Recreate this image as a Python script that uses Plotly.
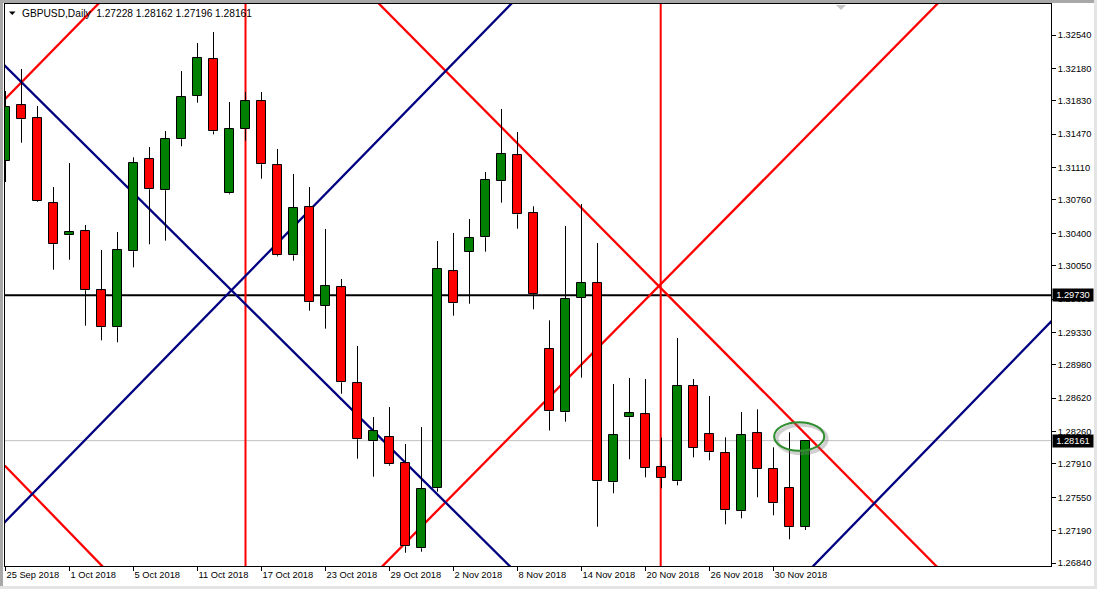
import plotly.graph_objects as go

# ---------------- data (GBPUSD, Daily) ----------------
dates = ["2018-09-25", "2018-09-26", "2018-09-27", "2018-09-28", "2018-10-01", "2018-10-02",
         "2018-10-03", "2018-10-04", "2018-10-05", "2018-10-08", "2018-10-09", "2018-10-10",
         "2018-10-11", "2018-10-12", "2018-10-15", "2018-10-16", "2018-10-17", "2018-10-18",
         "2018-10-19", "2018-10-22", "2018-10-23", "2018-10-24", "2018-10-25", "2018-10-26",
         "2018-10-29", "2018-10-30", "2018-10-31", "2018-11-01", "2018-11-02", "2018-11-05",
         "2018-11-06", "2018-11-07", "2018-11-08", "2018-11-09", "2018-11-12", "2018-11-13",
         "2018-11-14", "2018-11-15", "2018-11-16", "2018-11-19", "2018-11-20", "2018-11-21",
         "2018-11-22", "2018-11-23", "2018-11-26", "2018-11-27", "2018-11-28", "2018-11-29",
         "2018-11-30", "2018-12-03", "2018-12-04"]

opens = [1.31180, 1.31781, 1.31641, 1.30723, 1.30378, 1.30421, 1.29784, 1.29385, 1.30205, 1.31198,
         1.30864, 1.31414, 1.31885, 1.32278, 1.30831, 1.31522, 1.31824, 1.31133, 1.30162, 1.30680,
         1.29618, 1.29816, 1.28780, 1.28154, 1.28197, 1.27917, 1.26999, 1.27647, 1.29989, 1.30201,
         1.30356, 1.30961, 1.31241, 1.30615, 1.29147, 1.28467, 1.29701, 1.29860, 1.27711, 1.28413,
         1.28445, 1.27873, 1.27722, 1.28748, 1.28230, 1.28025, 1.27398, 1.28240, 1.27852, 1.27647,
         1.27228]
highs = [1.31935, 1.32173, 1.31774, 1.30899, 1.31158, 1.30489, 1.30219, 1.30413, 1.31220, 1.31331,
         1.31504, 1.32151, 1.32454, 1.32572, 1.31817, 1.31925, 1.31925, 1.31309, 1.31040, 1.30899,
         1.30446, 1.29906, 1.29183, 1.28416, 1.28524, 1.28125, 1.28308, 1.30316, 1.30403, 1.30554,
         1.31061, 1.31741, 1.31493, 1.30691, 1.29460, 1.30478, 1.30716, 1.30295, 1.28773, 1.28837,
         1.28827, 1.28193, 1.29269, 1.28827, 1.28643, 1.28197, 1.28470, 1.28499, 1.28089, 1.28251,
         1.28162]
lows = [1.30953, 1.31377, 1.30737, 1.30006, 1.30114, 1.29402, 1.29244, 1.29223, 1.30032, 1.30281,
        1.30320, 1.31339, 1.31809, 1.31468, 1.30820, 1.31399, 1.30989, 1.30150, 1.30104, 1.29564,
        1.29370, 1.28668, 1.27966, 1.27772, 1.27890, 1.26951, 1.26962, 1.27610, 1.29510, 1.29639,
        1.30201, 1.30730, 1.30449, 1.29579, 1.28271, 1.28366, 1.28841, 1.27232, 1.27593, 1.27960,
        1.27765, 1.27647, 1.27679, 1.27981, 1.27949, 1.27258, 1.27323, 1.27550, 1.27355, 1.27096,
        1.27196]
closes = [1.31766, 1.31630, 1.30745, 1.30281, 1.30410, 1.29784, 1.29385, 1.30216, 1.31155, 1.30874,
          1.31414, 1.31867, 1.32288, 1.31500, 1.31522, 1.31824, 1.31144, 1.30162, 1.30669, 1.29655,
          1.29827, 1.28791, 1.28176, 1.28262, 1.27906, 1.27021, 1.27636, 1.30011, 1.29644, 1.30345,
          1.30972, 1.31252, 1.30604, 1.29741, 1.28478, 1.29687, 1.29860, 1.27722, 1.28219, 1.28456,
          1.27866, 1.27755, 1.28748, 1.28082, 1.28035, 1.27409, 1.28219, 1.27852, 1.27485, 1.27226,
          1.28161]

tick_dates = ["2018-09-25", "2018-10-01", "2018-10-05", "2018-10-11", "2018-10-17", "2018-10-23",
              "2018-10-29", "2018-11-02", "2018-11-08", "2018-11-14", "2018-11-20", "2018-11-26",
              "2018-11-30"]
tick_labels = ["25 Sep 2018", "1 Oct 2018", "5 Oct 2018", "11 Oct 2018", "17 Oct 2018", "23 Oct 2018",
               "29 Oct 2018", "2 Nov 2018", "8 Nov 2018", "14 Nov 2018", "20 Nov 2018", "26 Nov 2018",
               "30 Nov 2018"]
price_ticks = [1.32540, 1.32180, 1.31830, 1.31470, 1.31110, 1.30760, 1.30400, 1.30050, 1.29690,
               1.29330, 1.28980, 1.28620, 1.28260, 1.27910, 1.27550, 1.27190, 1.26840]

level_price = 1.29730      # black horizontal level
bid_price = 1.28161        # current bid line

# drawn objects: two anchor points (bar position, price) per line
red_lines = [((-0.02, 1.31849), (5.73, 1.32864)),
             ((23.42, 1.32864), (58.15, 1.26811)),
             ((23.57, 1.26808), (58.17, 1.32864)),
             ((-0.02, 1.27887), (6.04, 1.26808))]
blue_lines = [((-0.02, 1.32205), (31.51, 1.26808)),
              ((-0.02, 1.27286), (31.54, 1.32864)),
              ((50.44, 1.26800), (65.40, 1.29456))]
red_vlines = [15.0, 40.95]
ellipse_box = ((48.04, 1.28053), (51.17, 1.28359))

# ---------------- styling ----------------
UP = "#008000"
DOWN = "#ff0000"
NAVY = "#000080"
FAMILY = "Liberation Sans, Arial, sans-serif"
FONT = dict(family=FAMILY, size=9.3, color="black")

W, H = 1097, 589
ML, MR, MT, MB = 5, 46, 4, 23
PW, PH = W - ML - MR, H - MT - MB
BAR_PX = 16.0
X0 = -0.5 / BAR_PX
XRANGE = [X0, X0 + PW / BAR_PX]
YRANGE = [1.2680785, 1.3287465]


def pxx(px):
    return (px - ML) / PW


def pxy(py):
    return (H - MB - py) / PH


idx = list(range(len(dates)))
pos = {d: i for i, d in enumerate(dates)}
tick_idx = [pos[d] for d in tick_dates]

fig = go.Figure()

# candle bodies
body_base = [min(o, c) for o, c in zip(opens, closes)]
body_h = [max(abs(c - o), 0.00002) for o, c in zip(opens, closes)]
body_col = [UP if c >= o else DOWN for o, c in zip(opens, closes)]
fig.add_trace(go.Bar(x=idx, y=body_h, base=body_base, width=9 / BAR_PX,
                     marker=dict(color=body_col, line=dict(color="black", width=1)),
                     hoverinfo="skip"))

# wicks (outside bodies)
wx, wy = [], []
for i, o, h, l, c in zip(idx, opens, highs, lows, closes):
    top, bot = max(o, c), min(o, c)
    if h > top:
        wx += [i, i, None]
        wy += [h, top, None]
    if l < bot:
        wx += [i, i, None]
        wy += [bot, l, None]
fig.add_trace(go.Scatter(x=wx, y=wy, mode="lines", line=dict(color="black", width=1),
                         hoverinfo="skip"))

shapes = []
# bid line and level
shapes.append(dict(type="line", xref="paper", yref="y", x0=0, x1=1, y0=bid_price, y1=bid_price,
                   line=dict(color="#c0c0c0", width=1), layer="below"))
shapes.append(dict(type="line", xref="paper", yref="y", x0=0, x1=1, y0=level_price, y1=level_price,
                   line=dict(color="black", width=2), layer="below"))


def ray(a, b, color):
    (xa, ya), (xb, yb) = a, b
    m = (yb - ya) / (xb - xa)
    xs, xe = -5.0, 75.0
    return dict(type="line", xref="x", yref="y", x0=xs, y0=ya + m * (xs - xa),
                x1=xe, y1=ya + m * (xe - xa), line=dict(color=color, width=2.3), layer="below")


for a, b in red_lines:
    shapes.append(ray(a, b, DOWN))
for a, b in blue_lines:
    shapes.append(ray(a, b, NAVY))
for xv in red_vlines:
    shapes.append(dict(type="line", xref="x", yref="paper", x0=xv, x1=xv, y0=0, y1=1,
                       line=dict(color=DOWN, width=2), layer="below"))

# ellipse highlight with soft shadow
(ex0, ey0), (ex1, ey1) = ellipse_box
dx, dy = 2.5 / BAR_PX, 0.00027
shapes.append(dict(type="circle", xref="x", yref="y", x0=ex0 + dx, x1=ex1 + dx, y0=ey0 - dy, y1=ey1 - dy,
                   line=dict(color="rgba(120,120,120,0.35)", width=4)))
shapes.append(dict(type="circle", xref="x", yref="y", x0=ex0, x1=ex1, y0=ey0, y1=ey1,
                   line=dict(color="#2f8f2f", width=2)))

# window frame decorations
shapes.append(dict(type="rect", xref="paper", yref="paper", x0=pxx(0), x1=pxx(W), y0=pxy(0), y1=pxy(3),
                   fillcolor="#a8a8a8", line=dict(width=0), layer="above"))
shapes.append(dict(type="rect", xref="paper", yref="paper", x0=pxx(0), x1=pxx(3), y0=pxy(0), y1=pxy(H),
                   fillcolor="#a8a8a8", line=dict(width=0), layer="above"))
shapes.append(dict(type="rect", xref="paper", yref="paper", x0=pxx(1094), x1=pxx(W), y0=pxy(0), y1=pxy(H),
                   fillcolor="#e4e4e4", line=dict(width=0), layer="above"))
shapes.append(dict(type="rect", xref="paper", yref="paper", x0=pxx(0), x1=pxx(W), y0=pxy(586), y1=pxy(H),
                   fillcolor="#e4e4e4", line=dict(width=0), layer="above"))
# small markers
shapes.append(dict(type="path", xref="paper", yref="paper",
                   path=f"M {pxx(9)} {pxy(11.5)} L {pxx(15.5)} {pxy(11.5)} L {pxx(12.25)} {pxy(15)} Z",
                   fillcolor="black", line=dict(width=0)))
shapes.append(dict(type="path", xref="paper", yref="paper",
                   path=f"M {pxx(836)} {pxy(5)} L {pxx(846)} {pxy(5)} L {pxx(841)} {pxy(10)} Z",
                   fillcolor="#c4c4c4", line=dict(width=0)))

annotations = [
    dict(xref="paper", yref="paper", x=pxx(20), y=pxy(13), xanchor="left", yanchor="middle",
         text=f"GBPUSD,Daily\u00a0 {opens[-1]:.5f} {highs[-1]:.5f} {lows[-1]:.5f} {closes[-1]:.5f}",
         showarrow=False, font=dict(family=FAMILY, size=10.2, color="black")),
]
for val in (level_price, bid_price):
    annotations.append(dict(xref="paper", yref="y", x=pxx(1052), y=val, xanchor="left", yanchor="middle",
                            text=f"{val:.5f}", showarrow=False, bgcolor="black", width=40, height=12,
                            borderpad=0, align="center",
                            font=dict(family=FAMILY, size=9.3, color="white")))

fig.update_layout(
    width=W, height=H, margin=dict(l=ML, r=MR, t=MT, b=MB, autoexpand=False),
    paper_bgcolor="white", plot_bgcolor="white", showlegend=False, hovermode=False,
    bargap=0, shapes=shapes, annotations=annotations, font=FONT,
)
fig.update_xaxes(range=XRANGE, tickmode="array", tickvals=tick_idx, ticktext=tick_labels,
                 ticks="outside", ticklen=4, tickcolor="black", tickwidth=1,
                 ticklabelposition="outside right", tickfont=FONT,
                 showgrid=False, zeroline=False, showline=True, linecolor="black", linewidth=1,
                 mirror=True, fixedrange=True)
fig.update_yaxes(side="right", range=YRANGE, tickmode="array", tickvals=price_ticks,
                 tickformat=".5f", ticks="outside", ticklen=4, tickcolor="black", tickwidth=1,
                 tickfont=FONT, showgrid=False, zeroline=False, showline=True, linecolor="black",
                 linewidth=1, mirror=True, fixedrange=True)

fig.write_html("out.html", config={"displayModeBar": False},
               post_script="document.body.style.margin='0';document.body.style.overflow='hidden';")
